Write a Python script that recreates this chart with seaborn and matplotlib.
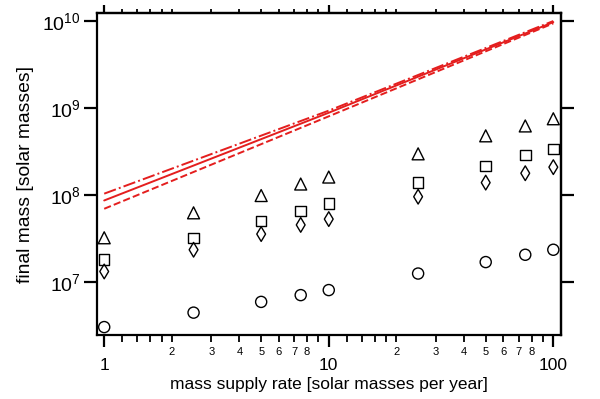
import numpy as np
import matplotlib
matplotlib.use("Agg")
import matplotlib.pyplot as plt
import seaborn as sns

# mass supply rate [solar masses per year]
mdot = [1, 2.5, 5, 7.5, 10, 25, 50, 75, 100]

# final mass [solar masses] for the four model sets
m_triangle = [3.2e7, 6.2e7, 9.8e7, 1.33e8, 1.6e8, 2.96e8, 4.77e8, 6.2e8, 7.5e8]
m_square = [1.79e7, 3.2e7, 5.0e7, 6.5e7, 7.9e7, 1.38e8, 2.15e8, 2.86e8, 3.35e8]
m_diamond = [1.31e7, 2.33e7, 3.53e7, 4.5e7, 5.25e7, 9.5e7, 1.38e8, 1.77e8, 2.08e8]
m_circle = [3.0e6, 4.4e6, 5.85e6, 7.0e6, 8.0e6, 1.24e7, 1.68e7, 2.04e7, 2.33e7]

# red reference lines
mdot_line = [1, 10, 100]
line_solid = [8.6e7, 8.8e8, 9.7e9]
line_dashdot = [1.03e8, 9.3e8, 1.0e10]
line_dashed = [6.9e7, 8.0e8, 9.4e9]

major_x = [1, 10, 100]
minor_steps = [1.2, 1.4, 1.6, 1.8, 2, 3, 4, 5, 6, 7, 8, 9]
minor_labels = ["", "", "", "", "2", "3", "4", "5", "6", "7", "8", ""]

sns.set_style("ticks", {"axes.edgecolor": "black", "xtick.color": "black",
                        "ytick.color": "black", "text.color": "black",
                        "axes.labelcolor": "black"})
plt.rcParams["font.family"] = ["Liberation Sans", "DejaVu Sans"]
plt.rcParams["mathtext.fontset"] = "custom"
plt.rcParams["mathtext.rm"] = "Liberation Sans"
plt.rcParams["mathtext.it"] = "Liberation Sans:italic"

fig = plt.figure(figsize=(6, 3.99), dpi=100)
ax = fig.add_axes([0.161, 0.1604, 0.774, 0.8063])
ax.set_xscale("log")
ax.set_yscale("log")

red = "#e41e1e"
sns.lineplot(x=mdot_line, y=line_solid, color=red, lw=1.4, ax=ax)
sns.lineplot(x=mdot_line, y=line_dashdot, color=red, lw=1.4, linestyle="-.", ax=ax)
sns.lineplot(x=mdot_line, y=line_dashed, color=red, lw=1.4, linestyle="--", ax=ax)

series = [(m_triangle, "^", 74), (m_square, "s", 57), (m_diamond, "d", 56), (m_circle, "o", 64)]
for vals, mk, size in series:
    sns.scatterplot(x=mdot, y=vals, marker=mk, s=size, facecolor="none",
                    edgecolor="black", linewidth=1.0, ax=ax, zorder=3)

ax.set_xlim(0.925, 108.2)
ax.set_ylim(10 ** 6.386, 10 ** 10.089)

for sp in ax.spines.values():
    sp.set_linewidth(1.6)
    sp.set_color("black")
    sp.set_visible(True)

# bottom axis ticks
minor_x = [d * s for d in major_x[:2] for s in minor_steps]
ax.set_xticks(major_x, labels=["1", "10", "100"])
ax.set_xticks(minor_x, labels=minor_labels * 2, minor=True)
ax.tick_params(axis="x", which="major", direction="out", length=8.6, width=1.6,
               labelsize=12.5, pad=8)
ax.tick_params(axis="x", which="minor", direction="out", length=5, width=1.3,
               labelsize=8, pad=3.5)

# left axis ticks
ax.set_yticks([1e7, 1e8, 1e9, 1e10])
ax.yaxis.set_minor_locator(matplotlib.ticker.NullLocator())
ax.tick_params(axis="y", which="major", direction="out", length=9.4, width=1.6,
               labelsize=14, pad=2)

# top and right axes
top = ax.secondary_xaxis("top")
top.set_xticks(major_x, labels=["", "", ""])
top.set_xticks(minor_x, labels=[""] * len(minor_x), minor=True)
top.tick_params(which="major", direction="out", length=6, width=1.6, color="black")
top.tick_params(which="minor", direction="out", length=3, width=1.3, color="black")
top.spines["top"].set_linewidth(1.6)
top.spines["top"].set_color("black")

right = ax.secondary_yaxis("right")
right.set_yticks([1e7, 1e8, 1e9, 1e10], labels=["", "", "", ""])
right.yaxis.set_minor_locator(matplotlib.ticker.NullLocator())
right.tick_params(which="major", direction="out", length=9.4, width=1.6, color="black")
right.spines["right"].set_linewidth(1.6)
right.spines["right"].set_color("black")

ax.set_xlabel("mass supply rate [solar masses per year]", fontsize=12.5, labelpad=3)
ax.set_ylabel("final mass [solar masses]", fontsize=13.9, labelpad=6)

fig.savefig("out.png", dpi=100)
